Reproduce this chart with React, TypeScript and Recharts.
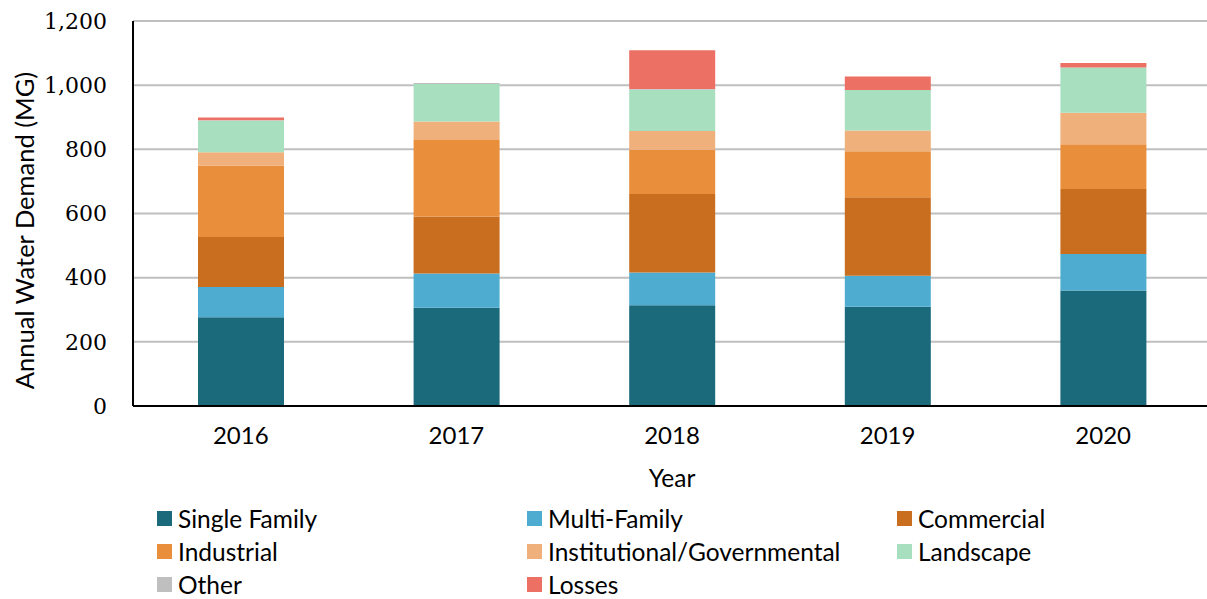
import { Bar, BarChart, CartesianGrid, XAxis, YAxis } from "recharts";

const years = ["2016", "2017", "2018", "2019", "2020"];
const singleFamily = [277, 306, 314, 309, 360];
const multiFamily = [94, 107, 102, 97, 114];
const commercial = [156, 178, 245, 245, 202];
const industrial = [223, 238, 138, 143, 140];
const institutional = [41, 58, 58, 65, 98];
const landscape = [99, 117, 129, 126, 141];
const other = [1, 3, 2, 0, 0];
const losses = [8, 0, 121, 42, 14];
const yTicks = [0, 200, 400, 600, 800, 1000, 1200];

const series = [
  { key: "singleFamily", name: "Single Family", color: "#1A6A7B", values: singleFamily },
  { key: "multiFamily", name: "Multi-Family", color: "#4FACD1", values: multiFamily },
  { key: "commercial", name: "Commercial", color: "#C86E1E", values: commercial },
  { key: "industrial", name: "Industrial", color: "#E98F3C", values: industrial },
  { key: "institutional", name: "Institutional/Governmental", color: "#F0B07C", values: institutional },
  { key: "landscape", name: "Landscape", color: "#A8DFBE", values: landscape },
  { key: "other", name: "Other", color: "#BFBFBF", values: other },
  { key: "losses", name: "Losses", color: "#EC7063", values: losses },
];

const data = years.map((year, i) => {
  const row: Record<string, string | number> = { year };
  series.forEach((s) => {
    row[s.key] = s.values[i];
  });
  return row;
});

const sans = "Lato, 'Open Sans', sans-serif";
const legendCols = [157, 527, 897];

export default function App() {
  return (
    <div style={{ position: "absolute", left: 0, top: 0, width: 1207, height: 599, background: "#fff", overflow: "hidden" }}>
      <BarChart width={1211} height={599} data={data} margin={{ top: 21, right: 0, bottom: 0, left: 0 }} barSize={86}>
        <CartesianGrid vertical={false} stroke="#bfbfbf" strokeWidth={2} />
        <XAxis
          dataKey="year"
          height={193}
          axisLine={{ stroke: "#000", strokeWidth: 2 }}
          tickLine={false}
          tickMargin={15}
          tick={{ fill: "#000", fontSize: 24, fontFamily: sans }}
          label={{ value: "Year", position: "insideTop", offset: 64, fill: "#000", fontSize: 24.5, fontFamily: sans }}
        />
        <YAxis
          width={133}
          domain={[0, 1200]}
          ticks={yTicks}
          interval={0}
          axisLine={{ stroke: "#000", strokeWidth: 2 }}
          tickLine={false}
          tickMargin={20}
          tickFormatter={(v: number) => v.toLocaleString("en-US")}
          tick={{ fill: "#000", fontSize: 22, fontFamily: "'DejaVu Serif', serif" }}
          label={{
            value: "Annual Water Demand (MG)",
            angle: -90,
            position: "insideLeft",
            dx: 20,
            dy: 17,
            textAnchor: "middle",
            fill: "#000",
            fontSize: 25.5,
            fontFamily: sans,
          }}
        />
        {series.map((s) => (
          <Bar key={s.key} dataKey={s.key} name={s.name} stackId="a" fill={s.color} isAnimationActive={false} />
        ))}
      </BarChart>
      {series.map((s, i) => (
        <div
          key={s.key}
          style={{
            position: "absolute",
            left: legendCols[i % 3],
            top: 504 + Math.floor(i / 3) * 33,
            height: 28,
            display: "flex",
            alignItems: "center",
            fontFamily: sans,
            fontSize: 24.5,
            color: "#000",
            whiteSpace: "nowrap",
          }}
        >
          <span style={{ display: "inline-block", width: 15, height: 15, background: s.color, marginRight: 6 }} />
          {s.name}
        </div>
      ))}
    </div>
  );
}
